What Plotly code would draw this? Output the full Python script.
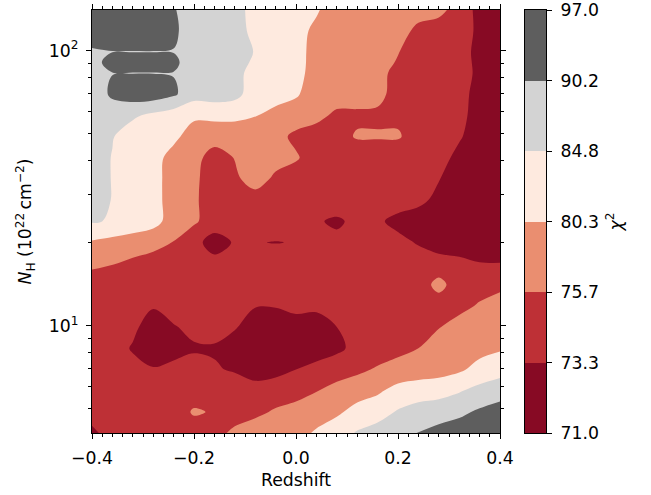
import numpy as np
import plotly.graph_objects as go

# Sampling grid of the chi-square scan
redshift = [-0.40, -0.36, -0.32, -0.28, -0.24, -0.20, -0.16, -0.12, -0.08, -0.04,
            0.00, 0.04, 0.08, 0.12, 0.16, 0.20, 0.24, 0.28, 0.32, 0.36, 0.40]
nh = [4.07, 4.86, 5.81, 6.93, 8.28, 9.89, 11.80, 14.09, 16.83, 20.09, 23.99,
      28.64, 34.20, 40.83, 48.75, 58.21, 69.50, 82.99, 90.70, 99.08, 118.3, 141.3]

# chi-square values, one row per N_H value (highest N_H first)
chi2_rows = [
    [93.6, 93.6, 93.6, 93.6, 90.9, 86.4, 87.5, 87.5, 82.6, 82.6, 82.6, 80.8, 78.0, 78.0, 78.0, 78.0, 78.0, 77.1, 74.7, 72.6, 72.2],
    [93.6, 93.6, 93.6, 93.6, 91.6, 87.0, 87.5, 88.6, 82.6, 82.6, 81.7, 79.4, 78.0, 78.0, 78.0, 78.0, 75.0, 74.5, 74.5, 72.8, 72.2],
    [89.6, 90.1, 90.1, 90.1, 90.0, 86.4, 87.5, 89.1, 84.4, 82.6, 82.1, 78.5, 78.0, 78.0, 78.0, 75.9, 74.5, 74.5, 74.3, 72.6, 72.2],
    [88.5, 92.5, 92.9, 92.9, 92.2, 86.4, 87.5, 88.6, 83.5, 82.6, 82.0, 78.5, 78.0, 78.0, 77.6, 75.5, 74.5, 74.5, 74.3, 72.7, 72.2],
    [88.0, 90.1, 90.1, 90.1, 90.0, 86.4, 87.5, 87.0, 82.6, 82.6, 81.7, 78.5, 78.0, 78.0, 77.1, 75.0, 74.5, 74.5, 74.3, 72.8, 72.2],
    [87.5, 91.2, 93.6, 93.6, 91.2, 87.0, 87.5, 86.4, 82.6, 82.6, 80.8, 78.0, 78.0, 78.0, 77.1, 74.7, 74.5, 74.5, 74.0, 72.6, 72.2],
    [87.5, 87.5, 85.6, 83.9, 82.6, 81.0, 81.2, 81.2, 80.5, 78.5, 78.0, 77.1, 75.2, 75.2, 75.2, 75.2, 74.5, 74.5, 73.8, 72.6, 72.2],
    [87.5, 85.1, 82.6, 82.6, 81.2, 78.5, 78.0, 78.0, 78.0, 77.1, 75.2, 74.5, 74.7, 76.2, 76.2, 76.2, 74.5, 74.3, 73.5, 72.4, 72.2],
    [87.5, 84.6, 82.6, 81.7, 78.9, 77.5, 74.5, 75.9, 78.0, 77.5, 76.2, 74.5, 74.5, 74.0, 74.0, 74.0, 74.5, 74.0, 72.8, 72.2, 72.2],
    [87.5, 84.6, 82.6, 81.7, 78.5, 76.6, 74.5, 75.2, 78.0, 75.2, 74.5, 74.5, 74.5, 74.5, 74.5, 74.5, 74.5, 73.4, 72.2, 71.9, 71.9],
    [87.5, 84.6, 82.6, 81.7, 78.5, 76.4, 74.5, 74.5, 74.5, 74.5, 74.5, 74.5, 74.5, 74.5, 74.5, 74.5, 74.0, 72.6, 71.9, 71.9, 71.9],
    [85.3, 84.4, 81.7, 81.7, 78.5, 76.4, 74.5, 74.5, 74.5, 74.5, 74.5, 73.5, 73.0, 73.8, 73.7, 72.6, 71.9, 71.9, 71.9, 71.9, 71.9],
    [79.8, 78.9, 79.2, 77.5, 75.6, 74.0, 72.4, 73.5, 73.4, 73.23, 73.4, 74.0, 73.8, 74.0, 74.3, 74.0, 73.1, 72.2, 71.9, 71.9, 71.9],
    [76.6, 75.9, 75.0, 74.5, 74.5, 74.5, 74.0, 74.5, 74.5, 74.5, 74.5, 74.5, 74.5, 74.5, 74.5, 74.5, 74.5, 74.3, 74.0, 73.4, 73.35],
    [74.5, 74.5, 74.5, 74.5, 74.5, 74.5, 74.5, 74.5, 74.5, 74.5, 74.5, 74.5, 74.5, 74.5, 74.5, 74.5, 74.5, 77.1, 74.5, 74.7, 75.2],
    [74.5, 74.5, 74.5, 73.5, 74.5, 74.5, 74.3, 74.0, 73.4, 73.4, 74.0, 73.8, 74.0, 74.3, 74.5, 74.5, 74.5, 74.5, 75.0, 76.2, 77.5],
    [74.5, 74.5, 73.8, 72.2, 73.1, 74.0, 74.0, 73.5, 72.2, 72.2, 72.2, 72.2, 73.3, 74.3, 74.5, 74.7, 75.0, 75.6, 77.5, 78.0, 78.0],
    [74.5, 74.3, 73.1, 71.9, 72.4, 73.0, 73.1, 72.2, 71.9, 71.9, 71.9, 72.2, 72.8, 74.0, 74.5, 75.0, 75.7, 77.5, 78.0, 78.9, 79.8],
    [74.5, 74.5, 74.0, 73.5, 74.0, 74.3, 73.5, 73.1, 72.2, 72.6, 73.3, 74.0, 74.7, 75.2, 76.2, 77.5, 78.0, 78.5, 79.6, 81.7, 83.0],
    [74.5, 74.5, 74.5, 74.5, 74.5, 74.5, 74.5, 74.5, 74.3, 74.5, 74.7, 75.6, 77.1, 78.5, 79.6, 81.7, 82.6, 83.0, 84.4, 86.4, 88.0],
    [74.5, 74.5, 74.5, 74.5, 74.5, 76.2, 75.5, 74.7, 75.2, 76.2, 77.5, 78.5, 79.6, 81.7, 83.0, 85.3, 87.0, 88.0, 89.1, 91.2, 92.9],
    [72.7, 74.5, 74.5, 74.5, 74.5, 74.5, 75.0, 76.6, 78.0, 78.5, 78.9, 80.8, 82.6, 85.3, 87.0, 88.0, 90.5, 92.2, 93.6, 93.6, 93.6],
]

# Contour levels and their colours (one colour per band)
levels = [71.0, 73.3, 75.7, 80.3, 84.8, 90.2, 97.0]
level_labels = ["71.0", "73.3", "75.7", "80.3", "84.8", "90.2", "97.0"]
band_colors = ["#870a24", "#be3036", "#ea8e70", "#feeadf", "#d3d3d3", "#5e5e5e"]

x_ticks = [-0.4, -0.2, 0.0, 0.2, 0.4]
x_ticktext = ["\u22120.4", "\u22120.2", "0.0", "0.2", "0.4"]
y_ticks = [10, 100]
y_ticktext = ["10<sup>1</sup>", "10<sup>2</sup>"]
y_minor = [5, 6, 7, 8, 9, 20, 30, 40, 50, 60, 70, 80, 90]

chi2 = np.array(chi2_rows)[::-1]
# Levels are unevenly spaced: contour in "band position" space so every
# level sits on an integer and each band gets equal room on the colour bar.
band_pos = np.interp(chi2, levels, np.arange(len(levels)))

n_bands = len(band_colors)
cscale = [[i / (n_bands - 1), c] for i, c in enumerate(band_colors)]

FONT = "DejaVu Sans"
FS = 17.3

fig = go.Figure()
fig.add_trace(go.Contour(
    x=redshift, y=nh, z=band_pos,
    autocontour=False,
    contours=dict(start=1, end=n_bands - 1, size=1, coloring="fill", showlines=False),
    line=dict(width=0),
    colorscale=cscale,
    showscale=False,
    hoverinfo="skip",
    xaxis="x", yaxis="y",
))

# Colour bar drawn as a one-column heatmap on its own axes
fig.add_trace(go.Heatmap(
    x=[0], y=[i + 0.5 for i in range(n_bands)],
    z=[[i] for i in range(n_bands)],
    zmin=0, zmax=n_bands - 1,
    colorscale=cscale, showscale=False, hoverinfo="skip",
    xaxis="x2", yaxis="y2",
))

plot_w = 454.0
axis_common = dict(
    showline=True, linecolor="black", linewidth=1,
    ticks="outside", ticklen=5, tickwidth=1.1, tickcolor="black",
    showgrid=False, zeroline=False, automargin=False,
    tickfont=dict(family=FONT, size=FS, color="black"),
)

fig.update_layout(
    width=651, height=495,
    margin=dict(l=92, r=105, t=10, b=62),
    paper_bgcolor="white", plot_bgcolor="white",
    font=dict(family=FONT, size=FS, color="black"),
    showlegend=False,
    xaxis=dict(
        domain=[0, 408 / plot_w], range=[-0.4, 0.4], anchor="y",
        tickmode="array", tickvals=x_ticks, ticktext=x_ticktext,
        mirror="allticks", ticklabelstandoff=4,
        minor=dict(tickmode="linear", tick0=-0.4, dtick=0.02, ticks="outside",
                   ticklen=3, tickwidth=0.8, tickcolor="black", showgrid=False),
        title=dict(text="Redshift", font=dict(family=FONT, size=FS), standoff=7),
        **axis_common,
    ),
    yaxis=dict(
        type="log", range=[0.61, 2.148], anchor="x",
        tickmode="array", tickvals=y_ticks, ticktext=y_ticktext,
        mirror="allticks", ticklabelstandoff=4,
        minor=dict(tickmode="array", tickvals=y_minor, ticks="outside",
                   ticklen=3, tickwidth=0.8, tickcolor="black", showgrid=False),
        title=dict(text="<i>N</i><sub>H</sub> (10<sup>22</sup>\u2009cm<sup>\u22122</sup>)",
                   font=dict(family=FONT, size=FS), standoff=12),
        **axis_common,
    ),
    xaxis2=dict(
        domain=[433 / plot_w, 1], range=[-0.5, 0.5], anchor="y2",
        showline=True, linecolor="black", linewidth=1, mirror=True, automargin=False,
        showticklabels=False, ticks="", showgrid=False, zeroline=False,
    ),
    yaxis2=dict(
        domain=[0, 1], range=[0, n_bands], anchor="x2", side="right",
        tickmode="array", tickvals=list(range(len(levels))), ticktext=level_labels,
        mirror=True, ticklabelstandoff=5,
        title=dict(text="<i>\u03c7</i><sup>2</sup>", font=dict(family=FONT, size=FS), standoff=11),
        **axis_common,
    ),
)

fig.write_html("out.html")
